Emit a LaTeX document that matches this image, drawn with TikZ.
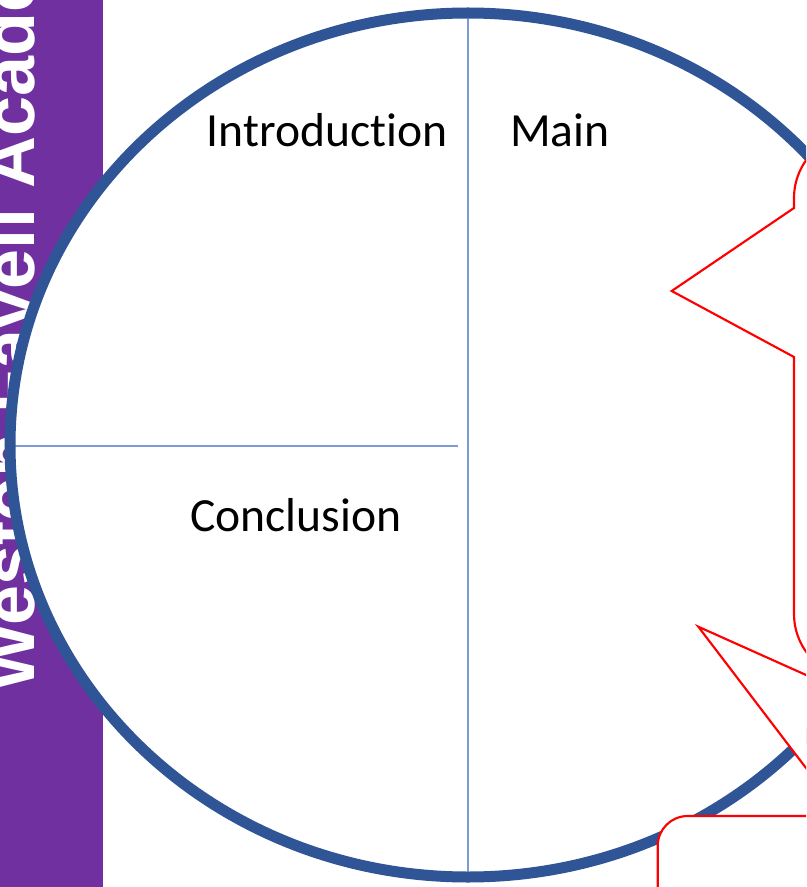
\documentclass[tikz,border=0pt]{standalone}
\usepackage{fontspec}
\newfontfamily\calibfont[Ligatures={NoCommon,NoDiscretionary,NoContextual},Contextuals=NoAlternate]{Carlito}
\newfontfamily\arialfont{Liberation Sans}
\definecolor{barpurple}{RGB}{112,48,160}
\definecolor{ringblue}{RGB}{47,85,151}
\definecolor{divblue}{RGB}{122,155,214}
\definecolor{callred}{RGB}{255,0,0}
\tikzset{
  sectlabel/.style={inner sep=0pt, anchor=base west, font=\calibfont\fontsize{35.7pt}{40pt}\selectfont, text=black},
  divider/.style={draw=divblue, line width=1.2pt},
  callout/.style={draw=callred, fill=white, line width=1.6pt, line join=miter},
}
\begin{document}
\begin{tikzpicture}[x=0.75pt,y=-0.75pt]
\useasboundingbox (0,0) rectangle (806,887);
\clip (0,0) rectangle (806,887);
\fill[white] (0,0) rectangle (806,887);
% purple bar with school name
\fill[barpurple] (0,0) rectangle (102.7,887);
\node[inner sep=0pt, anchor=base west, rotate=90, text=white,
      font=\arialfont\bfseries\fontsize{54pt}{60pt}\selectfont] (school) at (34,692) {Weston Favell Academy};
% ring
\fill[white] (468,445) ellipse [x radius=343.5pt, y radius=324pt];
\coordinate (vtop) at (468,14);
\coordinate (vbot) at (468,881);
\coordinate (hleft) at (10,445.7);
\coordinate (hright) at (458,445.7);
\draw[divider] (vtop) -- (vbot);
\draw[divider] (hleft) -- (hright);
\draw[ringblue, line width=8.25pt] (468,445) ellipse [x radius=343.5pt, y radius=324pt];
% labels
\node[sectlabel] (intro) at (206.7,146.7) {Introduction};
\node[sectlabel] (main) at (510,146.7) {Main};
\node[sectlabel] (concl) at (190,531.7) {Conclusion};
% callout 1
\draw[callout] (900,133) -- (859,133) .. controls (823.1,133) and (794,162.1) .. (794,198)
  -- (794,208) -- (671.7,291) -- (794,357) -- (794,614)
  .. controls (794,649.9) and (823.1,679) .. (859,679) -- (900,679) -- cycle;
% callout 2 pointer
\draw[callout] (698.3,626.7) -- (850,694.7) -- (850,825.7) -- cycle;
% bottom box
\draw[callout] (657.7,950) -- (657.7,846) .. controls (657.7,829.4) and (671.1,816) .. (687.7,816)
  -- (900,816) -- (900,950) -- cycle;
\end{tikzpicture}
\end{document}
